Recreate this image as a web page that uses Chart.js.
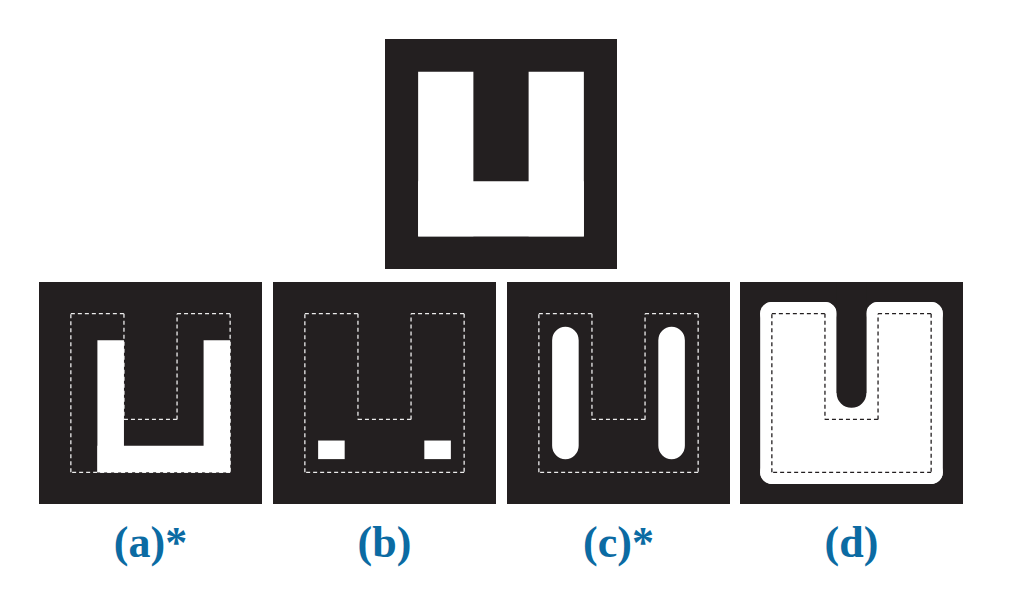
<!DOCTYPE html>
<html>
<head>
<meta charset="utf-8">
<script src="https://cdn.jsdelivr.net/npm/chart.js@4.4.1/dist/chart.umd.min.js"></script>
<style>
  html, body { margin: 0; padding: 0; background: #ffffff; }
  #figure { position: relative; width: 1017px; height: 591px; overflow: hidden; }
  canvas { position: absolute; background: #231f20; }
  canvas.overlay { background: transparent; }
  .label {
    position: absolute; width: 223px; height: 44px; line-height: 44px;
    text-align: center; font: bold 44px "Liberation Serif", serif; color: #0b6ba3;
  }
</style>
</head>
<body>
<div id="figure">
  <canvas id="panelTop" width="232" height="230" style="left:385px;top:39px"></canvas>
  <canvas id="panelA" width="223" height="222" style="left:39px;top:282px"></canvas>
  <canvas id="panelB" width="223" height="222" style="left:273px;top:282px"></canvas>
  <canvas id="panelC" width="223" height="222" style="left:507px;top:282px"></canvas>
  <canvas id="panelD" width="223" height="222" style="left:740px;top:282px"></canvas>
  <canvas id="panelDLines" class="overlay" width="223" height="222" style="left:740px;top:282px"></canvas>
</div>
<script>
// shapes in grid units: the U fills a 3 x 3 grid, notch 1 wide and 2 deep
// rectangles are [x0, x1, y0, y1], y measured downwards
const uRects = [[0, 1, 0, 3], [2, 3, 0, 3], [0, 3, 2, 3]];
const uOutlineX = [0, 1, 1, 2, 2, 3, 3, 0, 0];
const uOutlineY = [0, 0, 2, 2, 0, 0, 3, 3, 0];

// (a) result
const aRects = [[0.5, 1, 0.5, 3], [2.5, 3, 0.5, 3], [0.5, 3, 2.5, 3]];
// (b) result
const bRects = [[0.25, 0.75, 2.4, 2.75], [2.25, 2.75, 2.4, 2.75]];
// (c) result: two rounded bars, centre x and the span of their centre line
const cBarX = [0.5, 2.5];
const cBarY = [0.5, 2.5];
// (d) result: U grown by this many units, notch left with a round bottom
const dGrow = 0.22;
const dNotchFloor = [[1, 2, 1.5, 2]];

const panelLabels = ['(a)*', '(b)', '(c)*', '(d)'];

const BLACK = '#231f20';
const WHITE = '#ffffff';
const NONE = 'rgba(0,0,0,0)';
const DASH_LIGHT = '#ececec';
const AXIS_MIN = -0.6, AXIS_MAX = 3.6;
const BAR_W = 0.5;

// length in pixels of `units` along the x scale
function unitsToPx(ctx, units) {
    const s = ctx.chart.scales.x;
    return Math.abs(s.getPixelForValue(units) - s.getPixelForValue(0));
}

// a stroke along the centre line of a point pair, `thick` units wide
function strokeSet(p0, p1, thick, color, cap) {
    return {
        data: [p0, p1],
        fill: false,
        backgroundColor: NONE,
        borderColor: color,
        thick: thick,
        borderWidth: ctx => unitsToPx(ctx, ctx.dataset.thick),
        borderCapStyle: cap || 'butt',
        pointRadius: 0
    };
}

// each rectangle painted as one thick stroke down its long side
function rectSets(rects, color) {
    return rects.map(r => {
        const w = r[1] - r[0], h = r[3] - r[2];
        if (h >= w) {
            const cx = (r[0] + r[1]) / 2;
            return strokeSet({ x: cx, y: r[2] }, { x: cx, y: r[3] }, w, color);
        }
        const cy = (r[2] + r[3]) / 2;
        return strokeSet({ x: r[0], y: cy }, { x: r[1], y: cy }, h, color);
    });
}

// U outline as separate dashed edges
function outlineSets(color) {
    const sets = [];
    for (let i = 0; i < uOutlineX.length - 1; i++) {
        sets.push({
            data: [{ x: uOutlineX[i], y: uOutlineY[i] }, { x: uOutlineX[i + 1], y: uOutlineY[i + 1] }],
            fill: false,
            backgroundColor: NONE,
            borderColor: color,
            borderWidth: 1.3,
            borderDash: [4, 3],
            pointRadius: 0
        });
    }
    return sets;
}

// datasets listed bottom to top; chart.js paints index 0 last, so flip them
function makePanel(id, datasets) {
    return new Chart(document.getElementById(id), {
        type: 'line',
        data: { datasets: datasets.slice().reverse() },
        options: {
            responsive: false,
            animation: false,
            layout: { padding: 0 },
            scales: {
                x: { type: 'linear', min: AXIS_MIN, max: AXIS_MAX, display: false },
                y: { type: 'linear', min: AXIS_MIN, max: AXIS_MAX, reverse: true, display: false }
            },
            plugins: { legend: { display: false }, tooltip: { enabled: false } },
            events: []
        }
    });
}

// original U
makePanel('panelTop', rectSets(uRects, WHITE));

// (a)
makePanel('panelA', [...outlineSets(DASH_LIGHT), ...rectSets(aRects, WHITE)]);

// (b)
makePanel('panelB', [...rectSets(bRects, WHITE), ...outlineSets(DASH_LIGHT)]);

// (c)
const cSets = cBarX.map(x =>
    strokeSet({ x: x, y: cBarY[0] }, { x: x, y: cBarY[1] }, BAR_W, WHITE, 'round'));
makePanel('panelC', [...cSets, ...outlineSets(DASH_LIGHT)]);

// (d): grown rim drawn edge by edge with round ends, then the body,
// then the notch carved back out with a round bottom
const dRim = [];
for (let i = 0; i < uOutlineX.length - 1; i++) {
    dRim.push(strokeSet({ x: uOutlineX[i], y: uOutlineY[i] },
        { x: uOutlineX[i + 1], y: uOutlineY[i + 1] }, 2 * dGrow, WHITE, 'round'));
}
const dSlot = strokeSet({ x: 1.5, y: AXIS_MIN }, { x: 1.5, y: 1.5 }, 1 - 2 * dGrow, BLACK, 'round');
makePanel('panelD', [
    ...dRim,
    ...rectSets(uRects, WHITE),
    ...rectSets(dNotchFloor, WHITE),
    dSlot
]);
// dashed outline of (d) on its own transparent layer
makePanel('panelDLines', outlineSets(BLACK));

// panel captions
const fig = document.getElementById('figure');
['panelA', 'panelB', 'panelC', 'panelD'].forEach((id, i) => {
    const c = document.getElementById(id);
    const div = document.createElement('div');
    div.className = 'label';
    div.textContent = panelLabels[i];
    div.style.left = c.style.left;
    div.style.top = '517px';
    fig.appendChild(div);
});
</script>
</body>
</html>
